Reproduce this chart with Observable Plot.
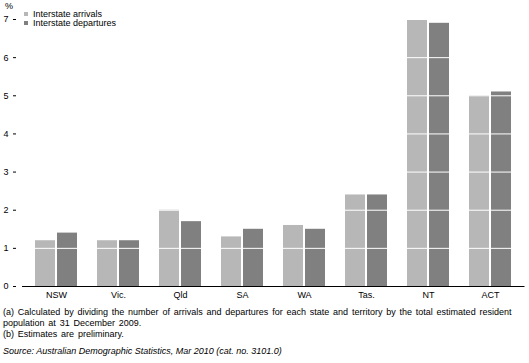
<!DOCTYPE html>
<html>
<head>
<meta charset="utf-8">
<script src="https://cdn.jsdelivr.net/npm/d3@7"></script>
<script src="https://cdn.jsdelivr.net/npm/@observablehq/plot@0.6"></script>
<style>
  body { margin: 0; background: white; }
  #wrap { position: relative; width: 529px; height: 363px; font-family: "Liberation Sans", Arial, sans-serif; font-size: 9px; color: #000; }
  .abs { position: absolute; white-space: nowrap; line-height: 11px; }
  .sw { position: absolute; width: 4px; height: 4px; }
</style>
</head>
<body>
<div id="wrap"></div>
<script>
const states = ["NSW", "Vic.", "Qld", "SA", "WA", "Tas.", "NT", "ACT"];
const arrivals = [1.2, 1.2, 2.0, 1.3, 1.6, 2.4, 7.0, 5.0];
const departures = [1.4, 1.2, 1.7, 1.5, 1.5, 2.4, 6.9, 5.1];
const yTicks = [0, 1, 2, 3, 4, 5, 6, 7];
const seriesNames = ["Interstate arrivals", "Interstate departures"];
const seriesColors = ["#b7b7b7", "#808080"];

const arrData = states.map((s, i) => ({state: s, value: arrivals[i]}));
const depData = states.map((s, i) => ({state: s, value: departures[i]}));

const W = 529, ML = 16, MR = 4.5;

const chart = Plot.plot({
  width: W,
  height: 300,
  marginLeft: ML,
  marginRight: MR,
  marginTop: 19,
  marginBottom: 14,
  style: {fontFamily: "'Liberation Sans', Arial, sans-serif", fontSize: "9px", color: "#000", background: "white"},
  x: {domain: states, paddingInner: 0.315, paddingOuter: 0.1575, insetLeft: 6, label: null},
  y: {domain: [0, 7], label: null},
  marks: [
    Plot.barY(arrData, {x: "state", y: "value", fill: seriesColors[0], insetRight: 22}),
    Plot.barY(depData, {x: "state", y: "value", fill: seriesColors[1], insetLeft: 22}),
    Plot.ruleY(yTicks.filter(d => d > 0), {stroke: "white", strokeWidth: 1, insetLeft: 6}),
    Plot.ruleY([0], {stroke: "black", strokeWidth: 1, insetLeft: 6}),
    // y-axis line at the left edge of the frame (zero-width frame)
    Plot.frame({stroke: "black", strokeWidth: 1, insetRight: W - ML - MR}),
    Plot.axisY({ticks: yTicks, tickSize: 3, tickPadding: 5, label: null, tickFormat: d => String(d)}),
    Plot.axisX({tickSize: 0, tickPadding: 5, label: null})
  ]
});

const wrap = document.getElementById("wrap");
chart.style.position = "absolute";
chart.style.left = "0px";
chart.style.top = "0px";
wrap.appendChild(chart);

function addText(txt, left, top, extra) {
  const d = document.createElement("div");
  d.className = "abs";
  d.style.left = left + "px";
  d.style.top = top + "px";
  d.innerHTML = txt;
  if (extra) Object.assign(d.style, extra);
  wrap.appendChild(d);
  return d;
}

// unit label
addText("%", 5, 0.5);

// legend
seriesNames.forEach((name, i) => {
  const sw = document.createElement("div");
  sw.className = "sw";
  sw.style.left = "24px";
  sw.style.top = (12 + i * 9) + "px";
  sw.style.background = seriesColors[i];
  wrap.appendChild(sw);
  addText(name, 33, 8.5 + i * 9);
});

// footnotes
addText("(a) Calculated by dividing the number of arrivals and departures for each state and territory by the total estimated resident<br>population at 31 December 2009.", 3, 306.5, {wordSpacing: "1.3px"});
addText("(b) Estimates are preliminary.", 3, 328.5, {wordSpacing: "1.3px"});
addText("Source: Australian Demographic Statistics, Mar 2010 (cat. no. 3101.0)", 3, 345.5, {fontStyle: "italic"});
</script>
</body>
</html>
